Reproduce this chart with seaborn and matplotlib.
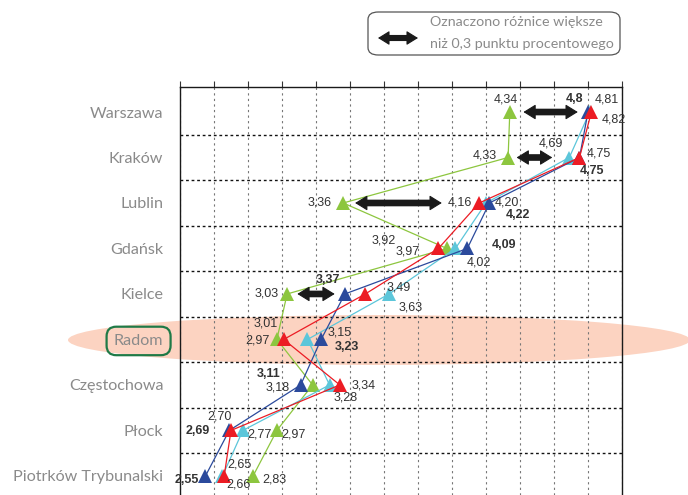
import numpy as np
import pandas as pd
import seaborn as sns
from matplotlib import pyplot as plt
from matplotlib.patches import Ellipse, FancyBboxPatch

cities = ['Warszawa', 'Kraków', 'Lublin', 'Gdańsk', 'Kielce', 'Radom',
          'Częstochowa', 'Płock', 'Piotrków Trybunalski']
green = [4.34, 4.33, 3.36, 3.97, 3.03, 2.97, 3.18, 2.97, 2.83]
cyan = [4.81, 4.69, 4.20, 4.02, 3.63, 3.15, 3.28, 2.77, 2.65]
blue = [4.80, 4.75, 4.22, 4.09, 3.37, 3.23, 3.11, 2.69, 2.55]
red = [4.82, 4.75, 4.16, 3.92, 3.49, 3.01, 3.34, 2.70, 2.66]

# differences > 0.3 pp marked with arrows: (city, from, to)
arrows = [('Warszawa', 4.42, 4.74), ('Kraków', 4.38, 4.59),
          ('Lublin', 3.43, 3.94), ('Kielce', 3.09, 3.31)]

colors = {'green': '#8dc63f', 'cyan': '#5cc6da', 'blue': '#2b4a9c', 'red': '#ec1c24'}

# label offsets in pixels (dx, dy) relative to each marker
label_off = {
    'green': [(-4, 13), (-23, 2), (-24, 0), (-39, -3), (-20, 0), (-19, -1), (-35, -3), (17, -4), (21, -4)],
    'cyan': [(17, 13), (-18, 14), (21, 0), (23, -14), (22, -14), (32, 7), (16, -13), (17, -4), (17, 11)],
    'blue': [(-13, 13), (13, -13), (29, -12), (37, 3), (-17, 14), (26, -8), (-32, 11), (-32, -1), (-19, -4)],
    'red': [(22, -7), (19, 4), (-19, 0), (-55, 8), (33, 6), (-18, 16), (24, -1), (-11, 14), (14, -9)],
}

series = {'green': green, 'cyan': cyan, 'blue': blue, 'red': red}
order = ['green', 'cyan', 'blue', 'red']

df = pd.DataFrame([
    {'series': s, 'city': c, 'pos': i, 'value': v}
    for s in order for i, (c, v) in enumerate(zip(cities, series[s]))
])

ARROW_COLOR = '#1a1a1a'
HEAD = '<|-|>,head_length=0.55,head_width=0.34'


def double_arrow(ax, xy0, xy1, coords, scale=14, shaft=4.8):
    '''
        Thick two-headed arrow: heavy shaft + thin-stroked filled heads
    '''
    ax.annotate('', xy=xy1, xytext=xy0, xycoords=coords, textcoords=coords,
                arrowprops=dict(arrowstyle=HEAD, lw=0.8, color=ARROW_COLOR,
                                shrinkA=0, shrinkB=0, mutation_scale=scale),
                zorder=4, annotation_clip=False)
    ax.annotate('', xy=xy1, xytext=xy0, xycoords=coords, textcoords=coords,
                arrowprops=dict(arrowstyle='-', lw=shaft, color=ARROW_COLOR,
                                shrinkA=scale * 0.5, shrinkB=scale * 0.5,
                                capstyle='butt'),
                zorder=4, annotation_clip=False)


sns.set_style('white')
fig = plt.figure(figsize=(6.88, 4.95), dpi=100)
W, H = 688, 495
ax = fig.add_axes([180 / W, 0, 442 / W, 1 - 87 / H])
ax.set_facecolor('none')

sns.lineplot(data=df, x='value', y='pos', hue='series', hue_order=order,
             palette=colors, sort=False, orient='y', estimator=None,
             marker='^', markersize=10, markeredgewidth=0, linewidth=0.9,
             legend=False, ax=ax, zorder=3)

ax.set_xlim(2.4, 5.0)
ax.set_ylim(8.42, -0.55)
ax.set_xlabel('')
ax.set_ylabel('')

ax.set_xticks(np.arange(2.4, 5.01, 0.2))
ax.xaxis.tick_top()
ax.tick_params(axis='x', which='major', direction='out', length=4, width=0.8,
               labeltop=False, labelbottom=False, color='#333333')
ax.grid(axis='x', which='major', color='#777777', linestyle=(0, (2, 3)), linewidth=0.8)

ax.set_yticks(range(len(cities)))
ax.set_yticklabels(cities, family='Lato', fontsize=11.6, color='#8a8a8a')
ax.set_yticks(np.arange(0.5, len(cities) - 1, 1.0), minor=True)
ax.tick_params(axis='y', which='both', length=0, pad=12)
ax.grid(axis='y', which='minor', color='#111111', linestyle=(0, (2, 2)), linewidth=1.0)
ax.grid(axis='y', which='major', visible=False)

for side in ['top', 'left', 'right']:
    ax.spines[side].set_visible(True)
    ax.spines[side].set_color('#1a1a1a')
    ax.spines[side].set_linewidth(1.0)
ax.spines['bottom'].set_visible(False)

for lbl in ax.get_yticklabels():
    if lbl.get_text() == 'Radom':
        lbl.set_bbox(dict(boxstyle='round,pad=0.45,rounding_size=0.6',
                          fc='none', ec='#1f7a47', lw=1.6))

# value labels
for s in order:
    for i, v in enumerate(series[s]):
        txt = f'{v:.2f}'.replace('.', ',')
        if s == 'blue' and i == 0:
            txt = '4,8'
        dx, dy = label_off[s][i]
        ax.annotate(txt, (v, i), xytext=(dx, dy), textcoords='offset pixels',
                    ha='center', va='center', fontsize=9, family='Liberation Sans',
                    color='#333333', fontweight='bold' if s == 'blue' else 'normal',
                    zorder=5)

# arrows
for city, x0, x1 in arrows:
    y = cities.index(city)
    double_arrow(ax, (x0, y), (x1, y), 'data')

# highlight ellipse for Radom
ell = Ellipse((379 / W, 1 - 340 / H), 622 / W, 50 / H, transform=fig.transFigure,
              fc='#fcd3c1', ec='none', zorder=-1)
fig.patches.append(ell)

# legend box (behind the axes so the arrow drawn on ax stays visible)
box = FancyBboxPatch((368 / W, 1 - 55 / H), 252 / W, 43 / H,
                     boxstyle='round,pad=0,rounding_size=0.015',
                     transform=fig.transFigure, fc='white', ec='#555555', lw=0.9,
                     zorder=-1)
fig.patches.append(box)
double_arrow(ax, (378 / W, 1 - 38 / H), (418 / W, 1 - 38 / H), 'figure fraction',
             scale=13, shaft=4.4)
fig.text(430 / W, 1 - 22 / H, 'Oznaczono różnice większe', family='Lato',
         fontsize=10.3, color='#8a8a8a', va='center', ha='left')
fig.text(430 / W, 1 - 44 / H, 'niż 0,3 punktu procentowego', family='Lato',
         fontsize=10.3, color='#8a8a8a', va='center', ha='left')

fig.savefig('out.png', dpi=100)
plt.close(fig)
